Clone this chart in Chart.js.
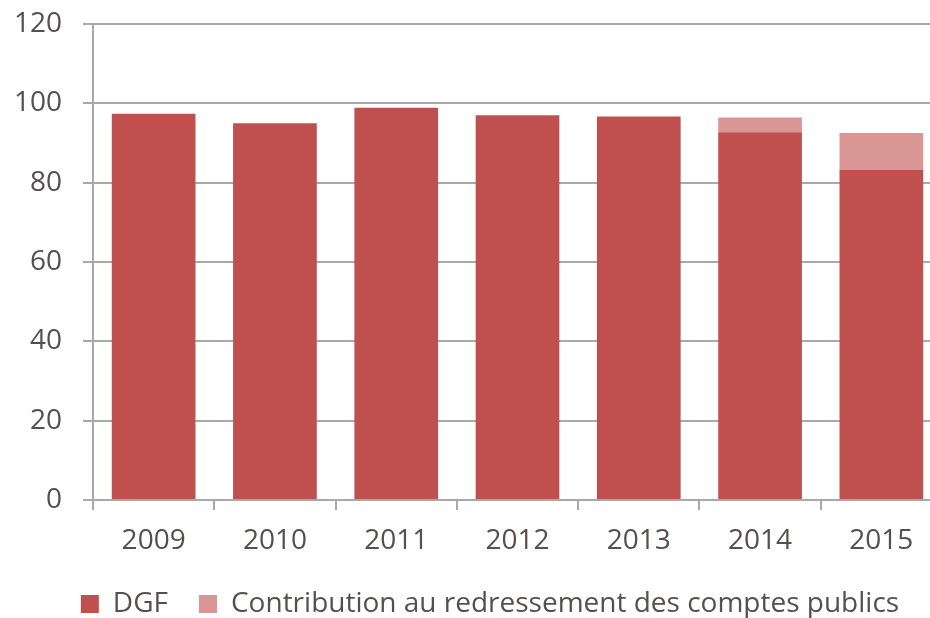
<!DOCTYPE html>
<html lang="fr">
<head>
<meta charset="utf-8">
<script src="https://cdn.jsdelivr.net/npm/chart.js@4"></script>
<style>
  html, body { margin: 0; padding: 0; background: #fff; overflow: hidden; }
  #wrap { position: relative; width: 968px; height: 640px; }
</style>
</head>
<body>
<div id="wrap"><canvas id="dgfChart"></canvas></div>
<script>
// données (milliards d'euros)
const annees = ['2009', '2010', '2011', '2012', '2013', '2014', '2015'];
const dgf = [97.4, 95.0, 98.9, 97.0, 96.7, 92.7, 83.2];
const contribution = [null, null, null, null, null, 3.7, 9.3];
const ticksY = [0, 20, 40, 60, 80, 100, 120];

document.addEventListener("DOMContentLoaded", function() {
    const gris = '#a9a9a9';
    const texte = '#584e4e';
    const police = { family: "'Open Sans', sans-serif", size: 28 };

    const ctx = document.getElementById('dgfChart').getContext('2d');
    const dgfChart = new Chart(ctx, {
        type: 'bar',
        data: {
            labels: annees,
            datasets: [{
                label: 'DGF',
                data: dgf,
                backgroundColor: '#c0504d',
                barPercentage: 0.69,
                categoryPercentage: 1
            }, {
                label: 'Contribution au redressement des comptes publics',
                data: contribution,
                backgroundColor: '#d99694',
                barPercentage: 0.69,
                categoryPercentage: 1
            }]
        },
        options: {
            responsive: true,
            maintainAspectRatio: false,
            animation: false,
            layout: { padding: { left: 14, right: 2, top: 24, bottom: 12 } },
            scales: {
                x: {
                    stacked: true,
                    grid: {
                        drawOnChartArea: false,
                        drawTicks: true,
                        tickLength: 10,
                        color: gris,
                        lineWidth: 2
                    },
                    border: { color: gris, width: 2 },
                    ticks: { color: texte, font: police, padding: 14 },
                    afterFit: function(scale) { scale.height = 59; }
                },
                y: {
                    stacked: true,
                    min: 0,
                    max: 120,
                    afterBuildTicks: function(scale) {
                        scale.ticks = ticksY.map(v => ({ value: v }));
                    },
                    grid: {
                        color: gris,
                        lineWidth: 2,
                        tickLength: 10
                    },
                    border: { color: gris, width: 2 },
                    ticks: { color: texte, font: police, padding: 21 },
                    afterFit: function(scale) {
                        scale.width = 79;
                        scale.paddingTop = 0;
                        scale.paddingBottom = 0;
                    }
                },
                // axe vide à droite : décale la légende sans toucher à la zone du graphique
                marge: {
                    position: 'right',
                    grid: { display: false },
                    border: { display: false },
                    ticks: { display: false },
                    afterFit: function(scale) { scale.width = 24; }
                }
            },
            plugins: {
                legend: {
                    position: 'bottom',
                    labels: {
                        color: texte,
                        font: police,
                        boxWidth: 18,
                        boxHeight: 18,
                        padding: 31
                    }
                },
                tooltip: { enabled: false }
            }
        }
    });
});
</script>
</body>
</html>
